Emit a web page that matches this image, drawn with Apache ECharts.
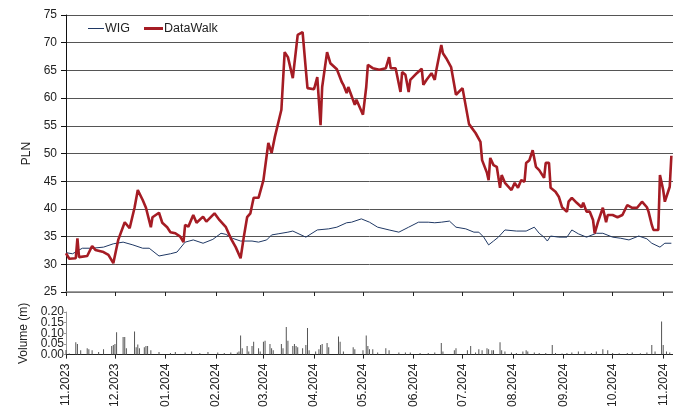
<!DOCTYPE html>
<html lang="pl" style="height: 100%">
<head>
  <meta charset="utf-8">
</head>
<body style="height: 100%; margin: 0">
  <div id="container" style="height: 100%"></div>
  <script type="text/javascript" src="https://cdn.jsdelivr.net/npm/echarts@6.0.0/dist/echarts.min.js"></script>
  <script>
// dane
var monthTicks = ['2023-11-01','2023-12-01','2024-01-01','2024-02-01','2024-03-01','2024-04-01',
  '2024-05-01','2024-06-01','2024-07-01','2024-08-01','2024-09-01','2024-10-01','2024-11-01'];
var volTicksA = [0, 0.10, 0.20];
var volTicksB = [0.05, 0.15];

var dwDates = ['2023-11-01','2023-11-03','2023-11-07','2023-11-08','2023-11-09','2023-11-14','2023-11-17','2023-11-19','2023-11-24','2023-11-27','2023-11-30',
  '2023-12-03','2023-12-07','2023-12-10','2023-12-13','2023-12-15','2023-12-18','2023-12-20','2023-12-23','2023-12-24','2023-12-28','2023-12-30',
  '2024-01-02','2024-01-04','2024-01-07','2024-01-10','2024-01-12','2024-01-13','2024-01-15','2024-01-18','2024-01-20','2024-01-24','2024-01-26','2024-01-31',
  '2024-02-03','2024-02-07','2024-02-10','2024-02-13','2024-02-16','2024-02-18','2024-02-20','2024-02-22','2024-02-24','2024-02-27',
  '2024-03-01','2024-03-04','2024-03-06','2024-03-08','2024-03-12','2024-03-14','2024-03-16','2024-03-19','2024-03-20','2024-03-22','2024-03-25','2024-03-27','2024-03-28',
  '2024-04-01','2024-04-03','2024-04-05','2024-04-06','2024-04-09','2024-04-11','2024-04-15','2024-04-18','2024-04-19','2024-04-21','2024-04-22','2024-04-26','2024-04-27',
  '2024-05-01','2024-05-03','2024-05-04','2024-05-07','2024-05-11','2024-05-15','2024-05-17','2024-05-18','2024-05-21','2024-05-24','2024-05-25','2024-05-27','2024-05-29','2024-05-30',
  '2024-06-03','2024-06-06','2024-06-07','2024-06-09','2024-06-12','2024-06-14','2024-06-15','2024-06-18','2024-06-19','2024-06-21','2024-06-24','2024-06-27',
  '2024-07-01','2024-07-02','2024-07-05','2024-07-09','2024-07-12','2024-07-13','2024-07-16','2024-07-17','2024-07-18','2024-07-20','2024-07-22','2024-07-24','2024-07-25','2024-07-27','2024-07-31',
  '2024-08-02','2024-08-04','2024-08-06','2024-08-08','2024-08-09','2024-08-11','2024-08-13','2024-08-15','2024-08-17','2024-08-20','2024-08-21','2024-08-23','2024-08-24','2024-08-27','2024-08-29','2024-08-31',
  '2024-09-03','2024-09-04','2024-09-06','2024-09-09','2024-09-12','2024-09-13','2024-09-15','2024-09-17','2024-09-19','2024-09-20','2024-09-22','2024-09-25','2024-09-27','2024-09-28',
  '2024-10-01','2024-10-04','2024-10-07','2024-10-10','2024-10-13','2024-10-16','2024-10-19','2024-10-22','2024-10-23','2024-10-25','2024-10-26','2024-10-29','2024-10-30',
  '2024-11-01','2024-11-02','2024-11-05','2024-11-06'];
var dwValues = [32.0,31.0,31.1,34.7,31.3,31.5,33.3,32.6,32.2,31.7,30.2,
  34.4,37.6,36.5,40.2,43.4,41.6,40.2,36.7,38.5,39.3,37.5,
  36.7,35.8,35.6,35.0,34.0,37.1,36.8,38.9,37.5,38.6,37.7,39.2,
  38.0,36.7,34.7,33.1,31.1,35.0,38.5,39.2,42.0,42.0,
  45.2,51.9,50.1,53.0,57.9,68.3,67.4,63.6,63.6,71.4,71.9,65.1,61.8,
  61.6,63.8,55.1,62.0,68.3,66.3,65.2,62.9,62.4,60.9,62.0,58.8,59.7,
  57.0,62.0,66.0,65.4,65.1,65.4,67.4,65.4,65.4,61.1,64.7,64.2,61.1,63.3,
  64.5,65.3,62.4,63.3,64.5,63.3,65.1,69.6,68.1,67.2,65.6,60.6,
  61.8,62.0,55.3,53.7,52.1,48.8,46.5,45.2,49.2,47.9,47.6,43.8,46.1,44.7,43.4,
  44.7,43.8,45.2,44.9,48.3,48.8,50.6,47.6,47.0,45.6,48.3,48.3,43.8,43.1,42.2,40.3,
  39.5,41.3,42.0,41.1,40.3,41.1,39.5,39.5,38.0,35.6,37.6,40.2,37.6,38.9,
  38.9,38.5,38.9,40.7,40.2,40.2,41.3,40.3,39.5,37.1,36.2,36.2,46.1,
  43.4,41.3,44.0,49.6];

var wigDates = ['2023-11-01','2023-11-05','2023-11-11','2023-11-17','2023-11-24','2023-11-30',
  '2023-12-06','2023-12-12','2023-12-18','2023-12-22','2023-12-28',
  '2024-01-04','2024-01-08','2024-01-13','2024-01-18','2024-01-24','2024-01-30',
  '2024-02-04','2024-02-07','2024-02-11','2024-02-16','2024-02-23','2024-02-27',
  '2024-03-03','2024-03-06','2024-03-10','2024-03-16','2024-03-19','2024-03-27',
  '2024-04-03','2024-04-10','2024-04-15','2024-04-21','2024-04-24','2024-04-30',
  '2024-05-05','2024-05-10','2024-05-17','2024-05-23','2024-05-29',
  '2024-06-04','2024-06-10','2024-06-14','2024-06-18','2024-06-23','2024-06-27',
  '2024-07-03','2024-07-08','2024-07-11','2024-07-14','2024-07-17','2024-07-20','2024-07-23','2024-07-27',
  '2024-08-03','2024-08-09','2024-08-14','2024-08-17','2024-08-20','2024-08-22','2024-08-24','2024-08-29',
  '2024-09-03','2024-09-06','2024-09-10','2024-09-15','2024-09-21','2024-09-25',
  '2024-10-01','2024-10-06','2024-10-11','2024-10-17','2024-10-22','2024-10-25','2024-10-30',
  '2024-11-02','2024-11-06'];
var wigValues = [32.1,31.9,32.9,32.9,33.1,33.7,
  34.0,33.5,32.9,32.9,31.5,
  31.9,32.2,34.0,34.4,33.8,34.5,
  35.6,35.4,34.7,34.2,34.2,34.0,
  34.4,35.3,35.5,35.8,36.0,34.9,
  36.2,36.4,36.7,37.5,37.6,38.2,
  37.6,36.7,36.2,35.8,36.7,
  37.6,37.6,37.5,37.6,37.8,36.7,
  36.4,35.8,35.8,34.9,33.5,34.2,34.9,36.2,
  36.0,36.0,36.7,35.6,34.9,34.2,35.1,34.9,
  34.9,36.2,35.5,34.9,35.6,35.6,
  34.9,34.7,34.4,35.1,34.6,33.8,33.1,
  33.8,33.8];

var volDates = ['2023-11-01','2023-11-03','2023-11-07','2023-11-08','2023-11-10','2023-11-14','2023-11-15','2023-11-17','2023-11-21','2023-11-24','2023-11-29','2023-11-30',
  '2023-12-01','2023-12-02','2023-12-06','2023-12-07','2023-12-08','2023-12-13','2023-12-14','2023-12-15','2023-12-16','2023-12-19','2023-12-20','2023-12-21','2023-12-23','2023-12-28',
  '2024-01-04','2024-01-07','2024-01-13','2024-01-17','2024-01-22','2024-01-27',
  '2024-02-02','2024-02-06','2024-02-10','2024-02-14','2024-02-15','2024-02-16','2024-02-17','2024-02-20','2024-02-21','2024-02-23','2024-02-24','2024-02-27','2024-02-28',
  '2024-03-01','2024-03-02','2024-03-05','2024-03-06','2024-03-07','2024-03-12','2024-03-13','2024-03-15','2024-03-16','2024-03-19','2024-03-20','2024-03-21','2024-03-22','2024-03-25','2024-03-27','2024-03-28','2024-03-29',
  '2024-04-02','2024-04-04','2024-04-05','2024-04-06','2024-04-09','2024-04-10','2024-04-16','2024-04-17','2024-04-19','2024-04-25','2024-04-26',
  '2024-05-01','2024-05-03','2024-05-04','2024-05-05','2024-05-07','2024-05-10','2024-05-15','2024-05-17','2024-05-23','2024-05-27','2024-05-30',
  '2024-06-05','2024-06-10','2024-06-14','2024-06-18','2024-06-19','2024-06-26','2024-06-27',
  '2024-07-04','2024-07-06','2024-07-09','2024-07-11','2024-07-13','2024-07-16','2024-07-17','2024-07-19','2024-07-20','2024-07-24','2024-07-25','2024-07-27','2024-07-31',
  '2024-08-03','2024-08-07','2024-08-09','2024-08-10','2024-08-14','2024-08-17','2024-08-21','2024-08-25','2024-08-27','2024-08-31',
  '2024-09-03','2024-09-06','2024-09-10','2024-09-14','2024-09-18','2024-09-21','2024-09-25','2024-09-28',
  '2024-10-01','2024-10-05','2024-10-10','2024-10-13','2024-10-18','2024-10-22','2024-10-25','2024-10-27','2024-10-31',
  '2024-11-01','2024-11-03','2024-11-05'];
var volValues = [0.022,0.005,0.058,0.05,0.02,0.03,0.025,0.02,0.012,0.025,0.04,0.045,
  0.05,0.105,0.083,0.083,0.03,0.108,0.035,0.048,0.03,0.035,0.04,0.04,0.02,0.012,
  0.008,0.012,0.01,0.015,0.008,0.012,
  0.01,0.008,0.01,0.01,0.015,0.09,0.03,0.04,0.015,0.04,0.06,0.03,0.015,
  0.06,0.065,0.05,0.03,0.02,0.05,0.03,0.13,0.065,0.04,0.05,0.04,0.035,0.03,0.045,0.125,0.02,
  0.015,0.025,0.045,0.05,0.055,0.035,0.085,0.06,0.015,0.035,0.025,
  0.02,0.09,0.04,0.025,0.025,0.01,0.03,0.02,0.01,0.01,0.01,
  0.008,0.008,0.01,0.055,0.015,0.02,0.03,
  0.02,0.04,0.01,0.025,0.02,0.03,0.025,0.02,0.02,0.058,0.02,0.015,0.01,
  0.008,0.015,0.02,0.015,0.01,0.008,0.008,0.045,0.008,0.005,
  0.008,0.01,0.015,0.015,0.008,0.015,0.025,0.02,
  0.008,0.006,0.008,0.01,0.006,0.01,0.045,0.015,0.155,
  0.045,0.015,0.01];

function ts(d) { return Date.UTC(+d.slice(0, 4), +d.slice(5, 7) - 1, +d.slice(8, 10)); }
function pairs(dates, vals) {
  return dates.map(function (d, i) { return [ts(d), vals[i]]; });
}
function fmtMonth(v) {
  var d = new Date(v);
  var m = d.getUTCMonth() + 1;
  return (m < 10 ? '0' + m : m) + '.' + d.getUTCFullYear();
}
function fmtVol(v) { return v.toFixed(2); }

var dom = document.getElementById('container');
var myChart = echarts.init(dom, null, { renderer: 'canvas' });

var font = 'Liberation Sans';
var tickVals = monthTicks.map(ts);
var xMin = ts('2023-11-01');
var xMax = ts('2024-11-07');
var legendText = { fontFamily: font, fontSize: 12.5, color: '#222', padding: [0, 0, 0, -4] };

var option = {
  animation: false,
  textStyle: { fontFamily: font },
  legend: [
    {
      left: 88, top: 22, padding: 0, icon: 'rect', itemWidth: 16, itemHeight: 1,
      textStyle: legendText, data: ['WIG']
    },
    {
      left: 144, top: 22, padding: 0, icon: 'rect', itemWidth: 19, itemHeight: 3,
      textStyle: legendText, data: ['DataWalk']
    }
  ],
  grid: [
    { left: 66, right: 0, top: 15, height: 277 },
    { left: 66, right: 0, top: 312, height: 45 }
  ],
  xAxis: [
    {
      type: 'value', gridIndex: 0, min: xMin, max: xMax,
      axisLine: { lineStyle: { color: '#808080', width: 1.5 } },
      axisTick: { customValues: tickVals, length: 4, lineStyle: { color: '#222' } },
      axisLabel: { show: false },
      splitLine: { show: false }
    },
    {
      type: 'value', gridIndex: 1, min: xMin, max: xMax,
      axisLine: { lineStyle: { color: '#222', width: 1 } },
      axisTick: { customValues: tickVals, length: 4, lineStyle: { color: '#222' } },
      axisLabel: {
        customValues: tickVals, rotate: 90, margin: 9,
        fontFamily: font, fontSize: 12, color: '#222',
        formatter: fmtMonth
      },
      splitLine: { show: false }
    }
  ],
  yAxis: [
    {
      type: 'value', gridIndex: 0, min: 25, max: 75, interval: 5,
      name: 'PLN', nameLocation: 'middle', nameGap: 32,
      nameTextStyle: { fontFamily: font, fontSize: 12, color: '#222' },
      axisLine: { show: true, lineStyle: { color: '#111', width: 1 } },
      axisTick: { show: true, length: 5, lineStyle: { color: '#111' } },
      axisLabel: { fontFamily: font, fontSize: 12, color: '#222', margin: 9 },
      splitLine: { lineStyle: { color: '#555', width: 1 } }
    },
    {
      type: 'value', gridIndex: 1, min: 0, max: 0.2, position: 'left',
      name: 'Volume (m)', nameLocation: 'middle', nameGap: 32,
      nameTextStyle: { fontFamily: font, fontSize: 12, color: '#222' },
      axisLine: { show: true, lineStyle: { color: '#999', width: 1 } },
      axisTick: { show: true, customValues: volTicksA.concat(volTicksB), length: 2, lineStyle: { color: '#999' } },
      axisLabel: {
        customValues: volTicksA,
        fontFamily: font, fontSize: 12, color: '#222', margin: 2,
        formatter: fmtVol
      },
      splitLine: { show: false }
    },
    {
      type: 'value', gridIndex: 1, min: 0, max: 0.2, position: 'left', offset: 0,
      axisLine: { show: false },
      axisTick: { show: false },
      axisLabel: {
        customValues: volTicksB,
        fontFamily: font, fontSize: 12, color: '#222', margin: 2,
        formatter: fmtVol
      },
      splitLine: { show: false }
    }
  ],
  series: [
    {
      name: 'WIG', type: 'line', xAxisIndex: 0, yAxisIndex: 0,
      symbol: 'none', showSymbol: false,
      lineStyle: { color: '#1f3864', width: 1 },
      itemStyle: { color: '#1f3864' },
      data: pairs(wigDates, wigValues)
    },
    {
      name: 'DataWalk', type: 'line', xAxisIndex: 0, yAxisIndex: 0,
      symbol: 'none', showSymbol: false,
      lineStyle: { color: '#a51c24', width: 2.6 },
      itemStyle: { color: '#a51c24' },
      data: pairs(dwDates, dwValues)
    },
    {
      name: 'Volume', type: 'bar', xAxisIndex: 1, yAxisIndex: 1,
      barWidth: 1,
      itemStyle: { color: '#555' },
      data: pairs(volDates, volValues)
    }
  ]
};

myChart.setOption(option);
window.addEventListener('resize', myChart.resize);
  </script>
</body>
</html>
